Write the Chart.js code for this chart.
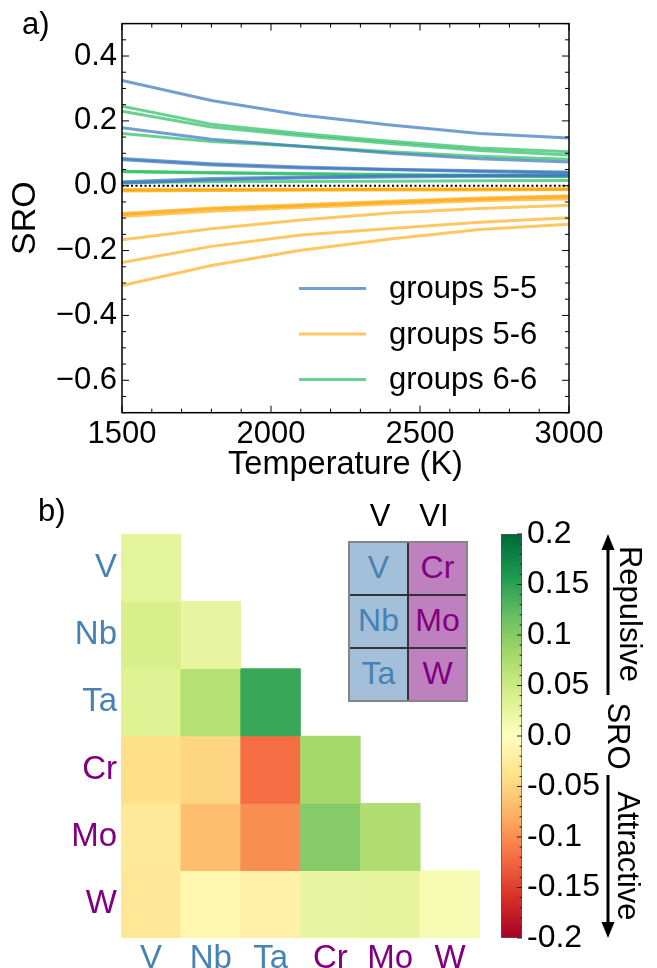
<!DOCTYPE html>
<html>
<head>
<meta charset="utf-8">
<script src="https://cdn.jsdelivr.net/npm/chart.js@4.4.1/dist/chart.umd.min.js"></script>
<style>
  body { margin: 0; background: #fff; width: 657px; height: 968px; overflow: hidden; position: relative;
         font-family: 'Liberation Sans', Arial, sans-serif; }
  canvas { position: absolute; }
  .txt { position: absolute; font-size: 31px; line-height: 1; color: #000; white-space: nowrap; }
  #pt { position: absolute; left: 348px; top: 541px; width: 120px; height: 161px; box-sizing: border-box;
        border: 2px solid #858585; background: #333; display: grid; grid-template-columns: 1fr 1fr;
        grid-template-rows: repeat(3, 1fr); gap: 2px; }
  #pt div { display: flex; align-items: center; justify-content: center; font-size: 32px; padding-bottom: 3px; }
</style>
</head>
<body>
<canvas id="lineChart" width="657" height="490" style="left:0;top:0;width:657px;height:490px"></canvas>
<canvas id="heatChart" width="490" height="481" style="left:0;top:487px;width:490px;height:481px"></canvas>
<canvas id="cbChart" width="177" height="481" style="left:480px;top:487px;width:177px;height:481px"></canvas>
<div class="txt" style="left:22px;top:8px">a)</div>
<div class="txt" style="left:38px;top:495px">b)</div>
<div class="txt" style="left:380px;top:500px;transform:translateX(-50%)">V</div>
<div class="txt" style="left:434px;top:500px;transform:translateX(-50%)">VI</div>
<div id="pt"></div>
<script>
// ---- panel a) data: SRO vs temperature ----
const temps = [1500, 1800, 2100, 2400, 2700, 3000];

// groups 5-5 : TaTa, TaNb, NbV, TaV, VV, NbNb
const sro55 = [
  [0.325, 0.263, 0.218, 0.187, 0.161, 0.147],
  [0.179, 0.143, 0.122, 0.100, 0.083, 0.073],
  [0.084, 0.068, 0.058, 0.051, 0.046, 0.042],
  [0.080, 0.064, 0.055, 0.049, 0.044, 0.039],
  [0.012, 0.022, 0.027, 0.030, 0.032, 0.034],
  [0.008, 0.018, 0.024, 0.027, 0.029, 0.031]
];
// groups 5-6 : NbW, TaW, VW, VCr, VMo, NbCr, NbMo, TaMo, TaCr
const sro56 = [
  [-0.012, -0.011, -0.011, -0.010, -0.010, -0.009],
  [-0.014, -0.013, -0.012, -0.012, -0.011, -0.011],
  [-0.016, -0.015, -0.014, -0.013, -0.013, -0.012],
  [-0.086, -0.069, -0.059, -0.048, -0.038, -0.031],
  [-0.089, -0.072, -0.062, -0.051, -0.041, -0.034],
  [-0.095, -0.079, -0.067, -0.056, -0.046, -0.040],
  [-0.167, -0.133, -0.106, -0.084, -0.070, -0.060],
  [-0.237, -0.187, -0.152, -0.132, -0.113, -0.099],
  [-0.308, -0.246, -0.199, -0.164, -0.135, -0.119]
];
// groups 6-6 : MoCr, CrCr, MoMo, WMo, WCr, WW
const sro66 = [
  [0.245, 0.190, 0.161, 0.137, 0.116, 0.105],
  [0.230, 0.181, 0.154, 0.130, 0.109, 0.095],
  [0.161, 0.136, 0.122, 0.105, 0.091, 0.082],
  [0.045, 0.041, 0.038, 0.035, 0.032, 0.030],
  [0.043, 0.039, 0.036, 0.033, 0.030, 0.028],
  [0.010, 0.012, 0.013, 0.014, 0.015, 0.016]
];
const groupNames = ['groups 5-5', 'groups 5-6', 'groups 6-6'];
const groupColors = ['rgba(60,120,190,0.72)', 'rgba(255,165,0,0.62)', 'rgba(40,190,100,0.7)'];
const xTickVals = [1500, 2000, 2500, 3000];
const yTickVals = [-0.6, -0.4, -0.2, 0.0, 0.2, 0.4];

// ---- panel b) data: SRO matrix at 3000 K (lower triangle) ----
const groupV = ['V', 'Nb', 'Ta'];
const groupVI = ['Cr', 'Mo', 'W'];
const elements = groupV.concat(groupVI);
const sroMatrix = [
  [0.028],
  [0.040, 0.024],
  [0.032, 0.068, 0.144],
  [-0.040, -0.048, -0.120, 0.080],
  [-0.028, -0.067, -0.100, 0.100, 0.072],
  [-0.030, -0.012, -0.020, 0.024, 0.026, 0.008]
];
const cbMin = -0.2, cbMax = 0.2;
const cbTickVals = [-0.2, -0.15, -0.1, -0.05, 0.0, 0.05, 0.1, 0.15, 0.2];

const colV = '#4682b4', colVI = '#800080';
const FONT = "'Liberation Sans', Arial, sans-serif";
Chart.defaults.font.family = FONT;
Chart.defaults.color = '#000';

// RdYlGn
const rdylgn = ['#a50026', '#d73027', '#f46d43', '#fdae61', '#fee08b', '#ffffbf',
                '#d9ef8b', '#a6d96a', '#66bd63', '#1a9850', '#006837'];
const hex2rgb = h => [1, 3, 5].map(i => parseInt(h.substr(i, 2), 16));
function cmap(v) {
  let t = (v - cbMin) / (cbMax - cbMin);
  t = Math.max(0, Math.min(1, t));
  const p = t * 10, i = Math.min(9, Math.floor(p)), f = p - i;
  const a = hex2rgb(rdylgn[i]), b = hex2rgb(rdylgn[i + 1]);
  const c = a.map((x, k) => Math.round(x + (b[k] - x) * f));
  return `rgb(${c[0]},${c[1]},${c[2]})`;
}
const elemColor = i => (i < groupV.length ? colV : colVI);

// ---------- panel a ----------
const lineSets = [];
[sro55, sro56, sro66].forEach((grp, g) => {
  grp.forEach(vals => {
    lineSets.push({
      data: temps.map((t, i) => ({ x: t, y: vals[i] })),
      borderColor: groupColors[g], borderWidth: 3, pointRadius: 0, tension: 0, fill: false
    });
  });
});
lineSets.push({
  data: temps.map(t => ({ x: t, y: 0 })),
  borderColor: '#000', borderWidth: 2, borderDash: [2, 2.5], pointRadius: 0, fill: false
});

const frameTicks = {
  id: 'frameTicks',
  afterDatasetsDraw(chart) {
    const { ctx, chartArea: a, scales: { x, y } } = chart;
    ctx.save();
    ctx.strokeStyle = '#000';
    ctx.lineWidth = 1;
    ctx.beginPath();
    for (let k = 15; k <= 30; k++) {
      const px = x.getPixelForValue(k * 100);
      const len = k % 5 === 0 ? 7 : 4;
      ctx.moveTo(px, a.bottom); ctx.lineTo(px, a.bottom - len);
      ctx.moveTo(px, a.top); ctx.lineTo(px, a.top + len);
    }
    for (let k = -14; k <= 10; k++) {
      const py = y.getPixelForValue(k * 0.05);
      const len = k % 4 === 0 ? 7 : 4;
      ctx.moveTo(a.left, py); ctx.lineTo(a.left + len, py);
      ctx.moveTo(a.right, py); ctx.lineTo(a.right - len, py);
    }
    ctx.stroke();
    ctx.lineWidth = 1.5;
    ctx.strokeRect(a.left, a.top, a.right - a.left, a.bottom - a.top);
    ctx.restore();
  }
};

const lineLegend = {
  id: 'lineLegend',
  afterDraw(chart) {
    const { ctx, chartArea: a } = chart;
    ctx.save();
    ctx.font = `31px ${FONT}`;
    ctx.textBaseline = 'middle';
    ctx.fillStyle = '#000';
    groupNames.forEach((name, i) => {
      const yy = a.top + 265 + i * 45.5;
      ctx.strokeStyle = groupColors[i];
      ctx.lineWidth = 3;
      ctx.beginPath();
      ctx.moveTo(a.left + 177, yy); ctx.lineTo(a.left + 244, yy);
      ctx.stroke();
      ctx.fillText(name, a.left + 267, yy + 1);
    });
    ctx.restore();
  }
};

new Chart(document.getElementById('lineChart'), {
  type: 'line',
  data: { datasets: lineSets },
  options: {
    responsive: false, animation: false,
    layout: { padding: { left: 0, right: 88, top: 10, bottom: 0 } },
    plugins: { legend: { display: false }, tooltip: { enabled: false } },
    scales: {
      x: {
        type: 'linear', min: 1500, max: 3000,
        afterBuildTicks: s => { s.ticks = xTickVals.map(v => ({ value: v })); },
        afterFit: s => { s.height = 77.3; },
        grid: { display: false, drawTicks: false }, border: { display: false },
        ticks: { padding: 3, font: { size: 31 }, callback: v => String(v) },
        title: { display: true, text: 'Temperature (K)', font: { size: 32.5 }, padding: { top: 0, bottom: 5 } }
      },
      y: {
        min: -0.7, max: 0.5,
        afterBuildTicks: s => { s.ticks = yTickVals.map(v => ({ value: v })); },
        afterFit: s => { s.width = 122; },
        grid: { display: false, drawTicks: false }, border: { display: false },
        ticks: { padding: 5, font: { size: 31 },
                 callback: v => (v < -1e-9 ? '\u2212' : '') + Math.abs(v).toFixed(1) },
        title: { display: true, text: 'SRO', font: { size: 34 }, padding: { top: 5, bottom: 0 } }
      }
    }
  },
  plugins: [frameTicks, lineLegend]
});

// ---------- panel b heatmap ----------
const heatSets = elements.map((rowName, r) => ({
  label: rowName,
  data: elements.map((_, c) => (c <= r ? [r - 0.5, r + 0.5] : null)),
  backgroundColor: elements.map((_, c) => (c <= r ? cmap(sroMatrix[r][c]) : 'rgba(0,0,0,0)')),
  borderWidth: 0, barPercentage: 1, categoryPercentage: 1, grouped: false
}));

new Chart(document.getElementById('heatChart'), {
  type: 'bar',
  data: { labels: elements, datasets: heatSets },
  options: {
    responsive: false, animation: false,
    layout: { padding: { left: 0, right: 10, top: 47, bottom: 0 } },
    plugins: { legend: { display: false }, tooltip: { enabled: false } },
    scales: {
      x: {
        grid: { display: false, drawTicks: false }, border: { display: false },
        afterFit: s => { s.height = 30; },
        ticks: { padding: 1, font: { size: 33 }, color: c => elemColor(c.index) }
      },
      y: {
        min: -0.5, max: 5.5, reverse: true,
        afterBuildTicks: s => { s.ticks = elements.map((_, i) => ({ value: i })); },
        afterFit: s => { s.width = 121; },
        grid: { display: false, drawTicks: false }, border: { display: false },
        ticks: { padding: 4, autoSkip: false, font: { size: 33 },
                 callback: v => elements[v], color: c => elemColor(c.index) }
      }
    }
  }
});

// periodic-table style inset
const pt = document.getElementById('pt');
groupV.forEach((el, i) => {
  [[el, '#a3bfd9', colV], [groupVI[i], '#bf80bf', colVI]].forEach(([name, bg, fg]) => {
    const d = document.createElement('div');
    d.textContent = name;
    d.style.background = bg;
    d.style.color = fg;
    pt.appendChild(d);
  });
});

// ---------- colorbar ----------
const cbTicks = {
  id: 'cbTicks',
  afterDatasetsDraw(chart) {
    const { ctx, chartArea: a, scales: { y } } = chart;
    ctx.save();
    ctx.strokeStyle = '#222';
    ctx.lineWidth = 1;
    ctx.beginPath();
    for (let k = -20; k <= 20; k++) {
      const py = y.getPixelForValue(k * 0.01);
      const len = k % 5 === 0 ? 5 : 2.5;
      ctx.moveTo(a.right, py); ctx.lineTo(a.right - len, py);
    }
    ctx.stroke();
    ctx.restore();
  }
};

const sideNote = {
  id: 'sideNote',
  afterDraw(chart) {
    const { ctx, chartArea: a } = chart;
    const ax = a.right + 86;
    const upEnd = a.top + 161, downStart = a.top + 241;
    ctx.save();
    ctx.strokeStyle = '#000';
    ctx.fillStyle = '#000';
    ctx.lineWidth = 3;
    ctx.beginPath();
    ctx.moveTo(ax, upEnd); ctx.lineTo(ax, a.top + 12);
    ctx.moveTo(ax, downStart); ctx.lineTo(ax, a.bottom - 12);
    ctx.stroke();
    ctx.beginPath();
    ctx.moveTo(ax, a.top); ctx.lineTo(ax - 6.5, a.top + 16); ctx.lineTo(ax + 6.5, a.top + 16); ctx.closePath();
    ctx.moveTo(ax, a.bottom); ctx.lineTo(ax - 6.5, a.bottom - 16); ctx.lineTo(ax + 6.5, a.bottom - 16); ctx.closePath();
    ctx.fill();
    ctx.font = `31px ${FONT}`;
    ctx.textAlign = 'center';
    ctx.textBaseline = 'alphabetic';
    [['Repulsive', ax + 12, a.top + 80], ['SRO', ax, a.top + 202], ['Attractive', ax + 10, a.top + 322]]
      .forEach(([t, tx, ty]) => {
        ctx.save();
        ctx.translate(tx, ty);
        ctx.rotate(Math.PI / 2);
        ctx.fillText(t, 0, 0);
        ctx.restore();
      });
    ctx.restore();
  }
};

new Chart(document.getElementById('cbChart'), {
  type: 'bar',
  data: {
    labels: [''],
    datasets: [{
      data: [[cbMin, cbMax]],
      backgroundColor: c => {
        const { ctx, chartArea } = c.chart;
        if (!chartArea) return '#ffffbf';
        const gr = ctx.createLinearGradient(0, chartArea.bottom, 0, chartArea.top);
        rdylgn.forEach((col, i) => gr.addColorStop(i / 10, col));
        return gr;
      },
      borderColor: '#555', borderWidth: 1, borderSkipped: false,
      barPercentage: 1, categoryPercentage: 1
    }]
  },
  options: {
    responsive: false, animation: false,
    layout: { padding: { left: 21, right: 0, top: 47, bottom: 30 } },
    plugins: { legend: { display: false }, tooltip: { enabled: false } },
    scales: {
      x: { display: false },
      y: {
        position: 'right', min: cbMin, max: cbMax,
        afterBuildTicks: s => { s.ticks = cbTickVals.map(v => ({ value: v })); },
        afterFit: s => { s.width = 135; },
        grid: { display: false, drawTicks: false }, border: { display: false },
        ticks: { padding: 5, font: { size: 32 },
                 callback: v => (Math.abs(v) < 1e-9 ? '0.0' : String(parseFloat(v.toFixed(2)))) }
      }
    }
  },
  plugins: [cbTicks, sideNote]
});
</script>
</body>
</html>
